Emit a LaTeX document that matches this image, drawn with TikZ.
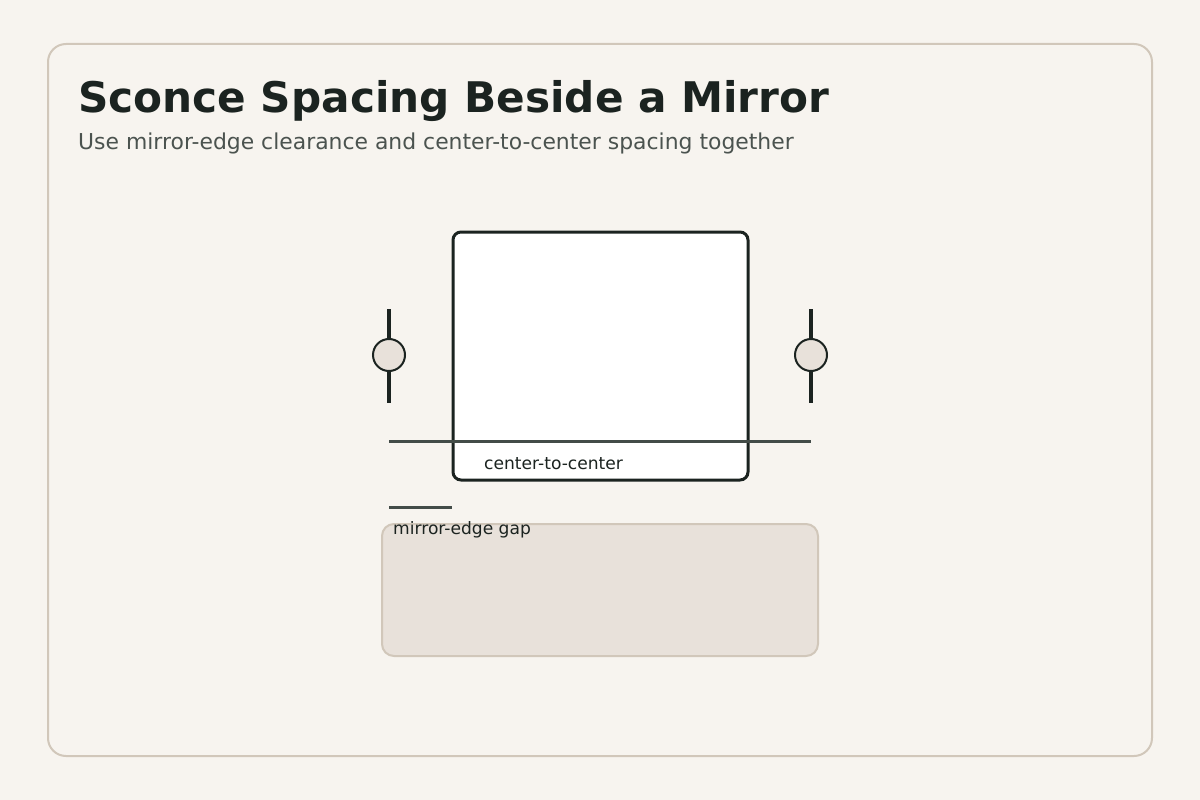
\documentclass[tikz,border=0pt]{standalone}
\usepackage{fontspec}
\setmainfont{DejaVu Sans}
\usetikzlibrary{calc}
\definecolor{pagebg}{HTML}{F7F4EF}
\definecolor{cardline}{HTML}{D1C7BA}
\definecolor{ink}{HTML}{1B2320}
\definecolor{subink}{HTML}{4B534F}
\definecolor{rule}{HTML}{434C48}
\definecolor{shade}{HTML}{E8E1DA}

\begin{document}
\begin{tikzpicture}[x=1pt,y=-1pt,
    sconce/.style={draw=ink, line width=2pt, fill=shade},
    stem/.style={draw=ink, line width=4pt},
    dimline/.style={draw=rule, line width=3pt},
    lbl/.style={inner sep=0pt, anchor=base west, text=ink, font=\fontsize{17.1}{20}\selectfont}]
        \fill[pagebg] (0,0) rectangle (1200,800);
        \useasboundingbox (0,0) rectangle (1200,800);
        \draw[cardline, line width=2pt, fill=pagebg, rounded corners=18pt] (48,44) rectangle (1152,756);
        
        \node[inner sep=0pt, anchor=base west, text=ink, font=\fontsize{42.2}{50}\selectfont\bfseries] (title) at (78,112) {Sconce Spacing Beside a Mirror};
        \node[inner sep=0pt, anchor=base west, text=subink, font=\fontsize{21.9}{26}\selectfont] (subtitle) at (78,149) {Use mirror-edge clearance and center-to-center spacing together};
        
        % mirror
        \draw[ink, line width=3pt, fill=white, rounded corners=8pt] (453,232) rectangle (748,480);
        
        % sconces
        \draw[stem] (389,309)--(389,403);
        \draw[stem] (811,309)--(811,403);
        \draw[sconce] (389,355) circle (16) coordinate (sconceL);
        \draw[sconce] (811,355) circle (16) coordinate (sconceR);
        
        % spacing lines
        \coordinate (ccL) at (389,441);
        \coordinate (ccR) at (811,441);
        \coordinate (gapL) at (389,507);
        \coordinate (gapR) at (452,507);
        \draw[dimline] (ccL)--(ccR);
        \draw[dimline] (gapL)--(gapR);
        \node[lbl] (cclabel) at (484,469) {center-to-center};
        
        % base panel
        \draw[cardline, line width=2pt, fill=shade, rounded corners=12pt] (382,524) rectangle (818,656);
        \node[lbl] (gaplabel) at (393,534) {mirror-edge gap};
    \end{tikzpicture}
\end{document}
